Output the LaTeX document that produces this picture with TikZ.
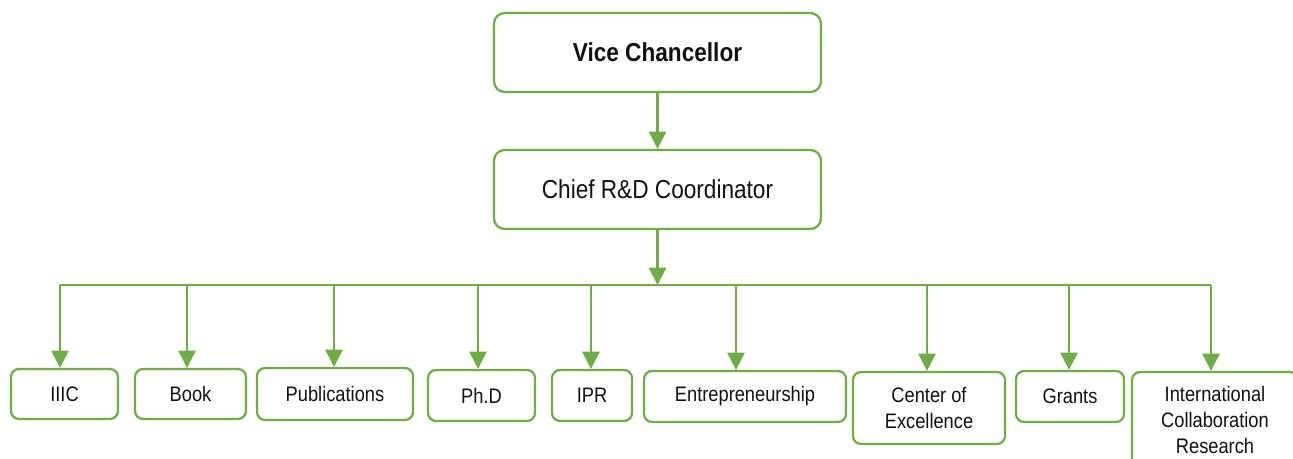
\documentclass[tikz,border=0pt]{standalone}
\usepackage{fontspec}
\setmainfont{Liberation Sans}[FakeStretch=0.87]
\usetikzlibrary{arrows.meta}
\definecolor{grn}{HTML}{70AD47}
\definecolor{txt}{HTML}{111111}
\begin{document}
\begin{tikzpicture}[x=0.75pt,y=-0.75pt,
  box/.style={draw=grn,line width=1.7pt,rounded corners=6pt,fill=white,text=txt,
    align=center,inner sep=0pt,font=\fontsize{15.75}{19.5}\selectfont},
  topbox/.style={box,rounded corners=8pt,font=\fontsize{19.5}{23}\selectfont},
  arr/.style={draw=grn,line width=1.6pt,-{Triangle[length=13pt,width=13pt]}},
  bar/.style={draw=grn,line width=1.6pt}]
\useasboundingbox (0,0) rectangle (1293,459);
\node[topbox,minimum width=327*0.75pt,minimum height=79*0.75pt] (vc) at (657.5,52.5) {\bfseries Vice Chancellor};
\node[topbox,minimum width=327*0.75pt,minimum height=79*0.75pt] (chief) at (657.5,189.5) {Chief R\&D Coordinator};
\node[box,minimum width=107*0.75pt,minimum height=50*0.75pt] (iiic) at (64.5,394) {IIIC};
\node[box,minimum width=111*0.75pt,minimum height=50*0.75pt] (book) at (190.5,394) {Book};
\node[box,minimum width=156*0.75pt,minimum height=52*0.75pt] (pub) at (335,394) {Publications};
\node[box,minimum width=107*0.75pt,minimum height=51*0.75pt] (phd) at (481.5,395.5) {Ph.D};
\node[box,minimum width=80*0.75pt,minimum height=51*0.75pt] (ipr) at (592,395.5) {IPR};
\node[box,minimum width=202*0.75pt,minimum height=51*0.75pt] (ent) at (745,396.5) {Entrepreneurship};
\node[box,minimum width=152*0.75pt,minimum height=72*0.75pt] (coe) at (929,408) {Center of\\Excellence};
\node[box,minimum width=108*0.75pt,minimum height=51*0.75pt] (grants) at (1070,396.5) {Grants};
\node[box,minimum width=166*0.75pt,minimum height=96*0.75pt] (icr) at (1215,420) {International\\Collaboration\\Research};
\coordinate (j) at (657.5,285);
\coordinate (b1) at (60,285);
\coordinate (b2) at (187,285);
\coordinate (b3) at (334,285);
\coordinate (b4) at (478,285);
\coordinate (b5) at (591,285);
\coordinate (b6) at (736,285);
\coordinate (b7) at (927,285);
\coordinate (b8) at (1069,285);
\coordinate (b9) at (1211,285);
\draw[arr] (vc) -- (chief);
\draw[arr] (chief) -- (j);
\draw[bar] (b1) -- (b9);
\draw[arr] (b1) -- (b1 |- iiic.north);
\draw[arr] (b2) -- (b2 |- book.north);
\draw[arr] (b3) -- (b3 |- pub.north);
\draw[arr] (b4) -- (b4 |- phd.north);
\draw[arr] (b5) -- (b5 |- ipr.north);
\draw[arr] (b6) -- (b6 |- ent.north);
\draw[arr] (b7) -- (b7 |- coe.north);
\draw[arr] (b8) -- (b8 |- grants.north);
\draw[arr] (b9) -- (b9 |- icr.north);
\end{tikzpicture}
\end{document}
